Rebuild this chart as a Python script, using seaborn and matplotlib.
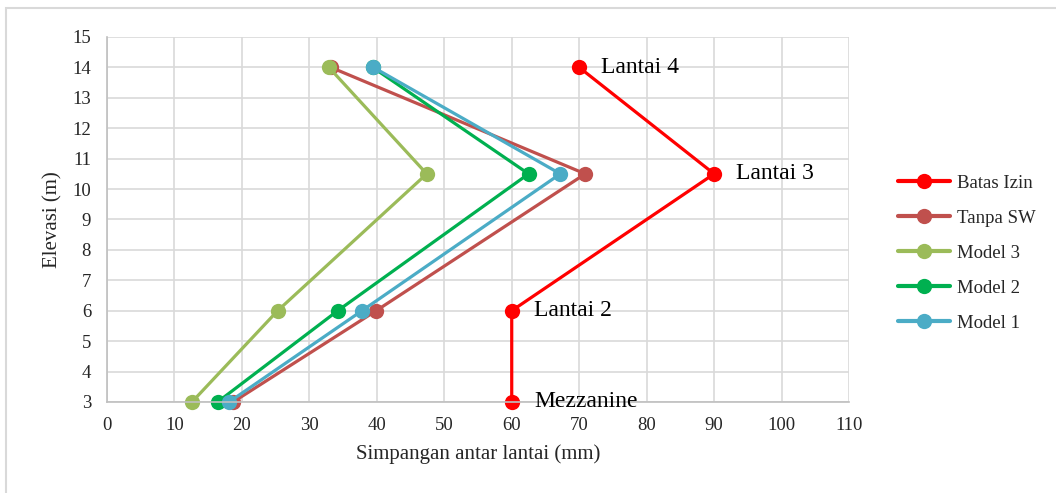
import pandas as pd
import seaborn as sns
import matplotlib.pyplot as plt
from matplotlib.patches import Rectangle

# elevations (m) and storey drift (mm)
elevasi = [3, 6, 10.5, 14]
batas_izin = [60, 60, 90, 70]
tanpa_sw = [18.7, 39.9, 70.9, 33.2]
model_3 = [12.6, 25.3, 47.4, 32.9]
model_2 = [16.4, 34.2, 62.5, 39.4]
model_1 = [18.1, 37.8, 67.2, 39.5]
lantai = ["Mezzanine", "Lantai 2", "Lantai 3", "Lantai 4"]

series = {
    "Batas Izin": batas_izin,
    "Tanpa SW": tanpa_sw,
    "Model 3": model_3,
    "Model 2": model_2,
    "Model 1": model_1,
}
colors = ["#FF0000", "#C0504D", "#9BBB59", "#00B050", "#4BACC6"]

rows = []
for name, vals in series.items():
    for x, y in zip(vals, elevasi):
        rows.append({"series": name, "simpangan": x, "elevasi": y})
df = pd.DataFrame(rows)

sns.set_theme(style="whitegrid")
plt.rcParams["font.family"] = ["Liberation Serif", "DejaVu Serif"]

fig = plt.figure(figsize=(10.56, 4.93), dpi=100)
ax = fig.add_axes([0.1013, 0.1846, 0.7027, 0.7404])

sns.lineplot(data=df, x="simpangan", y="elevasi", hue="series",
             palette=colors, sort=False, estimator=None,
             marker="o", markersize=11, markeredgewidth=0,
             linewidth=2.3, ax=ax)
for ln in ax.lines:
    ln.set_clip_on(False)

# floor labels next to the permitted drift line
for x, y, txt in zip(batas_izin, elevasi, lantai):
    ax.annotate(txt, (x, y), xytext=(16, 0), textcoords="offset points",
                va="center", ha="left", fontsize=17, color="black")

ax.set_xlim(0, 110)
ax.set_ylim(3, 15)
ax.set_xticks(range(0, 111, 10))
ax.set_yticks(range(3, 16))
ax.tick_params(axis="x", labelsize=13.5, length=0, pad=11)
ax.tick_params(axis="y", labelsize=13.5, length=0, pad=11.5)
ax.set_xlabel("Simpangan antar lantai (mm)", fontsize=15, labelpad=7)
ax.set_ylabel("Elevasi (m)", fontsize=15, labelpad=7)
ax.grid(True, color="#d9d9d9", linewidth=1.2)
for side, sp in ax.spines.items():
    sp.set_visible(side in ("left", "bottom"))
    sp.set_color("#bfbfbf")
    sp.set_linewidth(1.2)

leg = ax.legend(loc="center left", bbox_to_anchor=(1.066, 0.408),
                frameon=False, fontsize=13.5, handlelength=2.8,
                handletextpad=0.35, labelspacing=0.95, borderaxespad=0,
                borderpad=0)
for h in leg.legend_handles:
    h.set_linewidth(3)

# outer chart border
fig.patches.append(Rectangle((6 / 1056, -0.1), 1.2, (493 - 8) / 493 + 0.1,
                             transform=fig.transFigure, fill=False,
                             edgecolor="#d9d9d9", linewidth=1.5))

fig.savefig("out.png", dpi=100)
